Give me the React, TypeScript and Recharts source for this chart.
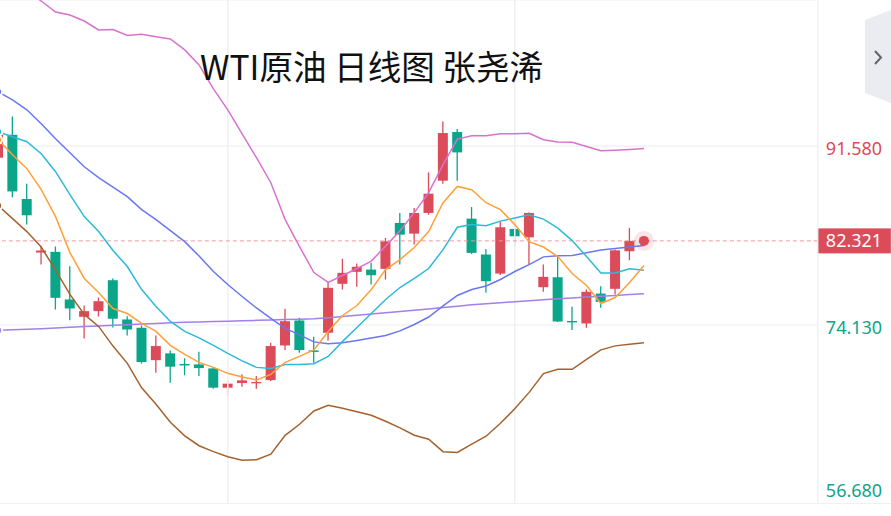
import { ComposedChart, Bar, Line, XAxis, YAxis, CartesianGrid, ReferenceLine, ReferenceDot } from 'recharts'

// trading days, oldest first (45 = today, still open)
const days = [
  0, 1, 2, 3, 4, 5, 6, 7, 8, 9, 10, 11, 12, 13, 14, 15, 16, 17, 18, 19, 20, 21, 22,
  23, 24, 25, 26, 27, 28, 29, 30, 31, 32, 33, 34, 35, 36, 37, 38, 39, 40, 41, 42, 43, 44, 45,
]

const open = [
  90.44, 92.68, 86.41, 81.18, 81.25, 76.6, 74.91, 75.46, 78.48, 74.65, 73.84, 70.68, 71.34, 70.31, 70.26, 69.87,
  67.99, 68.44, 68.44, 68.73, 72.11, 74.55, 71.63, 73.35, 78.13, 79.3, 79.52, 79.59, 84.07, 83.03, 85.05, 88.2,
  92.95, 84.49, 80.99, 79.13, 83.49, 82.67, 77.8, 78.77, 74.5, 74.26, 77.18, 77.64, 81.31, 82.3,
]
const high = [
  93.36, 94.47, 87.91, 81.79, 81.77, 79.84, 76.01, 76.79, 78.65, 74.97, 74.06, 73.09, 71.63, 70.85, 71.5, 69.97,
  68.7, 69.29, 69.12, 72.38, 75.69, 74.82, 72.96, 78.29, 80.57, 80.11, 80.18, 82.61, 85.05, 85.54, 89.01, 93.98,
  93.24, 85.63, 81.54, 84.23, 84.56, 85.1, 80.01, 80.89, 75.89, 77.57, 77.9, 81.47, 83.59, 82.4,
]
const low = [
  90.05, 86.57, 83.91, 80.01, 75.62, 74.58, 72.8, 74.94, 73.87, 73.09, 70.36, 69.45, 68.48, 69.19, 69.12, 67.89,
  67.12, 68.09, 67.89, 68.63, 71.66, 71.4, 70.43, 72.6, 77.57, 77.84, 78.06, 78.55, 80.01, 81.96, 84.88, 87.91,
  88.2, 81.05, 77.25, 79.0, 81.79, 80.01, 77.35, 74.39, 73.61, 73.84, 75.79, 77.09, 80.43, 82.25,
]
const close = [
  92.68, 87.15, 84.82, 81.38, 76.76, 75.72, 75.46, 76.43, 74.72, 73.67, 70.49, 72.05, 70.04, 70.16, 69.9, 67.99,
  68.38, 68.7, 68.54, 72.05, 74.48, 71.66, 71.48, 77.74, 79.2, 79.79, 78.97, 82.28, 82.93, 85.05, 86.93, 92.85,
  90.96, 81.15, 78.38, 83.65, 82.77, 85.05, 78.81, 74.45, 74.36, 77.35, 76.37, 81.4, 82.32, 82.321,
]

const ma5 = [
  92.19, 90.73, 89.37, 87.32, 84.69, 81.18, 78.65, 77.28, 75.72, 75.23, 74.26, 73.48, 72.12, 71.24, 70.46, 69.97,
  69.39, 69.03, 68.75, 69.29, 70.46, 71.04, 71.68, 73.48, 75.04, 76.01, 77.57, 79.52, 80.5, 81.67, 83.23, 86.05,
  87.64, 87.32, 86.05, 85.37, 83.91, 82.25, 81.72, 80.79, 79.13, 77.96, 76.21, 76.79, 78.26, 79.91,
]
const ma10 = [
  92.97, 92.49, 92.0, 90.83, 89.08, 86.83, 84.69, 83.23, 81.38, 79.82, 77.57, 75.92, 74.46, 73.48, 72.85, 72.12,
  71.34, 70.61, 69.97, 69.87, 70.26, 70.26, 70.33, 71.04, 72.51, 73.87, 75.23, 76.6, 77.77, 78.65, 79.62, 81.47,
  83.65, 83.91, 83.81, 84.25, 84.56, 84.88, 84.45, 83.57, 82.35, 80.79, 79.18, 79.18, 79.59, 79.46,
]
const bollMid = [
  96.87, 96.09, 95.12, 93.75, 92.29, 90.93, 89.56, 88.49, 87.56, 86.64, 85.37, 84.4, 83.32, 82.25, 80.84, 79.33,
  78.06, 76.89, 75.77, 74.75, 73.77, 73.14, 72.46, 72.28, 72.38, 72.6, 72.83, 73.09, 73.53, 74.16, 74.89, 75.97,
  76.99, 77.57, 77.92, 78.55, 79.33, 80.01, 80.76, 80.87, 80.89, 81.16, 81.42, 81.57, 81.72, 81.86,
]
const bollUp = [
  108.76, 107.79, 106.72, 105.74, 104.67, 104.38, 103.79, 102.92, 102.96, 102.38, 102.5, 102.26, 102.04, 100.97,
  99.5, 97.17, 95.12, 92.78, 90.44, 88.0, 84.4, 81.77, 79.23, 78.26, 78.94, 79.62, 80.35, 81.81, 83.32, 85.08,
  87.03, 89.76, 92.26, 92.58, 92.58, 92.78, 92.78, 92.83, 92.19, 91.97, 91.95, 91.54, 91.12, 91.17, 91.25, 91.34,
]
const bollDn = [
  85.76, 84.49, 83.23, 81.72, 79.47, 77.09, 75.14, 73.97, 72.05, 70.36, 67.97, 66.37, 64.61, 63.29, 62.32, 61.74,
  61.25, 60.91, 60.96, 61.49, 63.34, 64.42, 65.71, 66.27, 65.97, 65.63, 65.29, 64.71, 64.07, 63.34, 62.95, 61.74,
  61.66, 62.47, 63.25, 64.51, 65.93, 67.53, 69.36, 69.78, 69.78, 70.75, 71.68, 72.07, 72.23, 72.38,
]
const ma60 = [
  73.58, 73.64, 73.69, 73.75, 73.82, 73.89, 73.95, 74.01, 74.08, 74.13, 74.2, 74.26, 74.33, 74.37, 74.41, 74.45,
  74.48, 74.52, 74.56, 74.6, 74.64, 74.68, 74.72, 74.82, 74.94, 75.06, 75.19, 75.31, 75.43, 75.56, 75.68, 75.81,
  75.94, 76.08, 76.18, 76.29, 76.38, 76.48, 76.57, 76.66, 76.75, 76.83, 76.91, 77.0, 77.09, 77.16,
]

const priceTicks = [56.68, 74.13, 91.58]
const lastPrice = 82.321
const gridDays = [16, 36]
const title = 'WTI原油 日线图 张尧浠'

const RED = '#dc4b59'
const GREEN = '#0ba68a'
const GRID = '#eef0f4'

const rows = days.map((d, k) => ({
  i: d,
  open: open[k],
  high: high[k],
  low: low[k],
  close: close[k],
  ma5: ma5[k],
  ma10: ma10[k],
  bollMid: bollMid[k],
  bollUp: bollUp[k],
  bollDn: bollDn[k],
  ma60: ma60[k],
}))

function Candle(props: any) {
  const { x, y, width, height, payload } = props
  if (x == null || y == null || !payload) return null
  const { open: o, close: c, high: h, low: l } = payload
  const color = c >= o ? RED : GREEN
  const span = h - l || 1
  const py = (v: number) => y + ((h - v) / span) * height
  const top = py(Math.max(o, c))
  const bot = py(Math.min(o, c))
  const cx = x + width / 2
  return (
    <g>
      <line x1={cx} x2={cx} y1={y} y2={y + height} stroke={color} strokeWidth={1.3} />
      <rect x={x} y={top} width={width} height={Math.max(bot - top, 1.3)} fill={color} />
    </g>
  )
}

function PriceTick(props: any) {
  const { x, y, payload } = props
  const v = payload.value
  const dy = v === priceTicks[0] ? -6 : 9
  return (
    <text x={x} y={y + dy} textAnchor='start' fontSize={18} fill={v > lastPrice ? RED : GREEN}>
      {v.toFixed(3)}
    </text>
  )
}

function PriceTag(props: any) {
  const vb = props.viewBox || {}
  const x = (vb.x ?? 0) + (vb.width ?? 0)
  const y = vb.y ?? 0
  return (
    <g>
      <rect x={x} y={y - 12.5} width={73} height={25} fill={RED} />
      <text x={x + 8} y={y + 6.5} fontSize={18} fill='#fff'>
        {lastPrice.toFixed(3)}
      </text>
    </g>
  )
}

function PulseDot(props: any) {
  const { cx, cy } = props
  return (
    <g>
      <circle cx={cx} cy={cy} r={10} fill={RED} opacity={0.15} />
      <circle cx={cx} cy={cy} r={5} fill={RED} />
    </g>
  )
}

export default function App() {
  return (
    <div
      style={{
        position: 'fixed',
        left: 0,
        top: 0,
        width: 891,
        height: 516,
        overflow: 'hidden',
        background: '#fff',
        fontFamily: '"Noto Sans", sans-serif',
      }}
    >
      <div style={{ position: 'absolute', left: -8.85, top: 0 }}>
        <ComposedChart
          width={899.85}
          height={516}
          data={rows}
          margin={{ top: 0, right: 0, bottom: 12.5, left: 0 }}
          style={{ fontFamily: '"Noto Sans", sans-serif' }}
        >
          <CartesianGrid vertical={false} stroke={GRID} strokeWidth={1.2} />
          <XAxis dataKey='i' type='category' hide padding={{ left: 0, right: 166.75 }} />
          <YAxis
            orientation='right'
            width={73}
            domain={[56.68, 105.84]}
            ticks={priceTicks}
            interval={0}
            allowDataOverflow
            axisLine={{ stroke: GRID, strokeWidth: 1.2 }}
            tickLine={false}
            tick={<PriceTick />}
          />
          {gridDays.map((d) => (
            <ReferenceLine key={d} x={d} stroke={GRID} strokeWidth={1.5} />
          ))}
          <ReferenceLine
            y={lastPrice}
            stroke='#ec9aa2'
            strokeDasharray='4 3'
            label={<PriceTag />}
          />
          <Bar dataKey={(d: any) => [d.low, d.high]} barSize={10} shape={<Candle />} isAnimationActive={false} />
          <Line dataKey='ma60' stroke='#a47fea' strokeWidth={1.5} dot={false} isAnimationActive={false} />
          <Line dataKey='bollUp' stroke='#d872cf' strokeWidth={1.5} dot={false} isAnimationActive={false} />
          <Line dataKey='bollDn' stroke='#a5622f' strokeWidth={1.5} dot={false} isAnimationActive={false} />
          <Line dataKey='bollMid' stroke='#6977f2' strokeWidth={1.5} dot={false} isAnimationActive={false} />
          <Line dataKey='ma10' stroke='#2bbad8' strokeWidth={1.5} dot={false} isAnimationActive={false} />
          <Line dataKey='ma5' stroke='#ffa03a' strokeWidth={1.5} dot={false} isAnimationActive={false} />
          <ReferenceDot x={45} y={lastPrice} r={5} shape={<PulseDot />} />
        </ComposedChart>
      </div>
      <svg width={891} height={516} style={{ position: 'absolute', left: 0, top: 0, pointerEvents: 'none' }}>
        <line x1={0} x2={891} y1={503.5} y2={503.5} stroke={GRID} strokeWidth={1.2} />
        <text x={200} y={80} fontSize={33.6} fill='#111' fontFamily='"Noto Sans CJK SC", sans-serif'>
          {title}
        </text>
        <path d='M865 20 L891 10 L891 103 L865 93 Z' fill='#ebecf1' />
        <path d='M875 51 L881 57.5 L875 64' fill='none' stroke='#5f6470' strokeWidth={2} />
      </svg>
    </div>
  )
}
